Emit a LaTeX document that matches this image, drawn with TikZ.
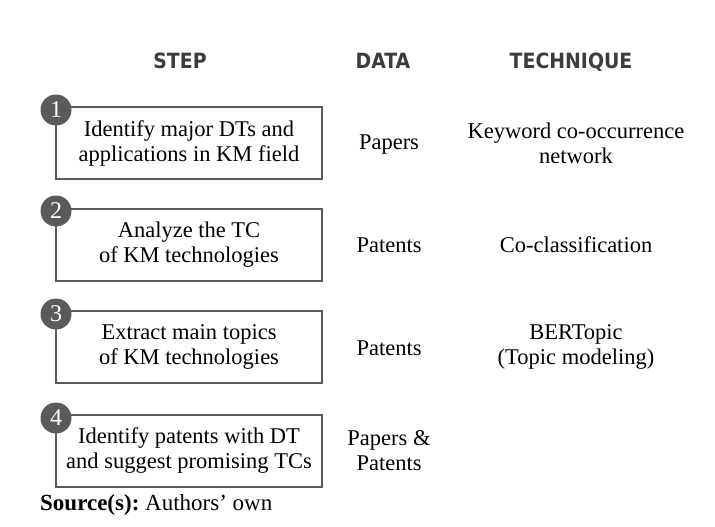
\documentclass[tikz,border=0pt]{standalone}
\usepackage{fontspec}
\setmainfont{Liberation Serif}
\newfontfamily\headfont{DejaVu Sans Condensed}
\definecolor{stepgray}{HTML}{5A5A5A}
\definecolor{headgray}{HTML}{3C3C3C}
\tikzset{
  stepbox/.style={draw=stepgray,line width=1.2pt,minimum width=266pt,minimum height=72pt,
    align=center,font=\fontsize{22.5}{25}\selectfont,inner sep=0pt},
  badge/.style={circle,fill=stepgray,text=white,minimum size=31pt,inner sep=0pt,
    font=\fontsize{24}{24}\selectfont},
  head/.style={anchor=base,text=headgray,font=\headfont\bfseries\fontsize{21}{21}\selectfont},
  cell/.style={align=center,font=\fontsize{22.5}{25}\selectfont}
}
\begin{document}
\begin{tikzpicture}[x=1pt,y=-1pt]
  \useasboundingbox (0,0) rectangle (715,527);
  \node[head] (hstep) at (180,69) {STEP};
  \node[head] (hdata) at (383,69) {DATA};
  \node[head] (htech) at (571,69) {TECHNIQUE};
  % steps
  \node[stepbox] (s1) at (189,143) {Identify major DTs and\\applications in KM field};
  \node[stepbox] (s2) at (189,245) {Analyze the TC\\of KM technologies};
  \node[stepbox] (s3) at (189,347) {Extract main topics\\of KM technologies};
  \node[stepbox] (s4) at (189,451) {Identify patents with DT\\and suggest promising TCs};
  \foreach \i/\y in {1/110,2/211,3/314,4/418}
    \node[badge] (b\i) at (56,\y) {\i};
  % data
  \node[cell] (d1) at (389,145) {Papers};
  \node[cell] (d2) at (389,245) {Patents};
  \node[cell] (d3) at (389,348) {Patents};
  \node[cell] (d4) at (389,451) {Papers \&\\Patents};
  % technique
  \node[cell] (t1) at (576,143) {Keyword co-occurrence\\network};
  \node[cell] (t2) at (576,245) {Co-classification};
  \node[cell] (t3) at (576,347) {BERTopic\\(Topic modeling)};
  \node[anchor=west,inner sep=0pt,font=\fontsize{23}{25}\selectfont] (src) at (40,505) {\textbf{Source(s):}~Authors' own};
\end{tikzpicture}
\end{document}
